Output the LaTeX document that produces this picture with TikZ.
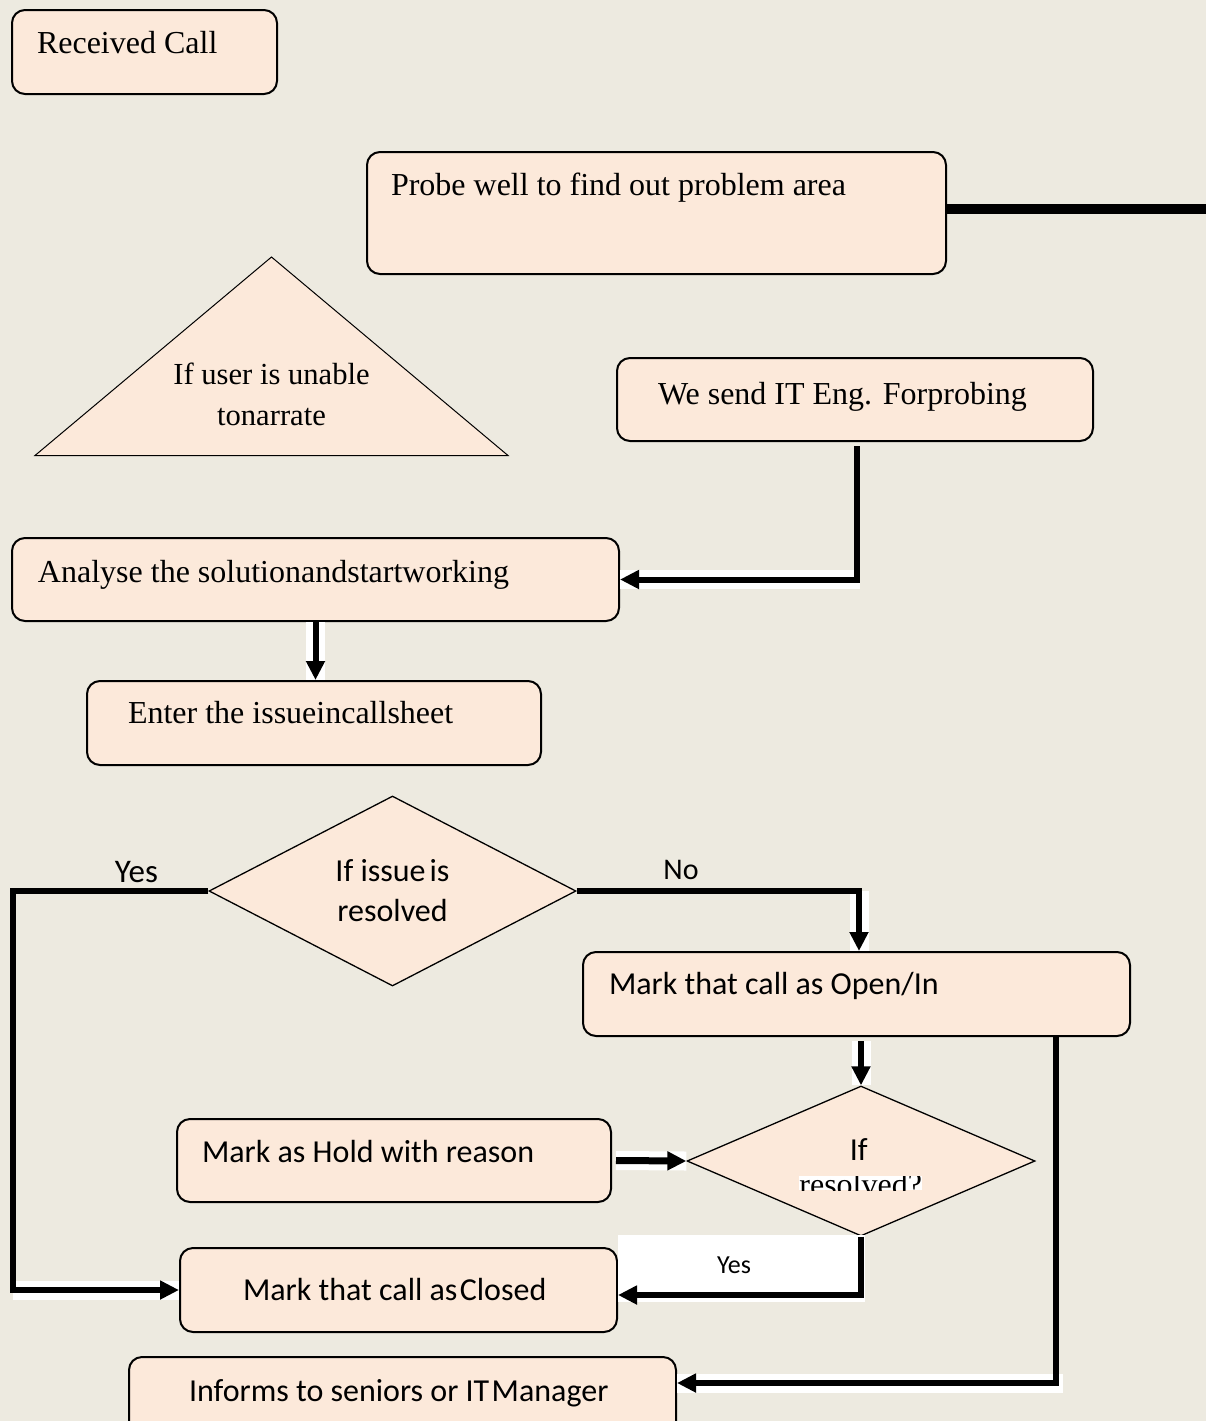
\documentclass[tikz,border=0pt]{standalone}
\usepackage{fontspec}
\setmainfont{Liberation Serif}
\newfontfamily\calfont{Carlito}
\usetikzlibrary{arrows.meta,shapes.geometric}
\definecolor{bgc}{RGB}{237,234,224}
\definecolor{boxc}{RGB}{252,233,218}
\begin{document}
\begin{tikzpicture}[x=0.5pt,y=-0.5pt,
  box/.style={draw=black, line width=1pt, rounded corners=6.5pt, fill=boxc, inner ysep=0pt, align=left,
    execute at begin node={\spaceskip=0pt\xspaceskip=0pt}},
  serifsix/.style={font=\fontsize{16pt}{20.5pt}\selectfont},
  sanssix/.style={font=\calfont\fontsize{16pt}{20pt}\selectfont},
  labelbig/.style={font=\calfont\fontsize{15pt}{17pt}\selectfont, inner sep=0pt, anchor=base},
  labelsmall/.style={font=\calfont\fontsize{13pt}{15pt}\selectfont, inner sep=0pt, anchor=base},
  conn/.style={line width=3pt, draw=black},
  arr/.style={conn, -{Triangle[length=9.5pt,width=9pt]}},
  halo/.style={draw=white, line width=9.5pt},
  thinshape/.style={draw=black, line width=0.65pt, fill=boxc},
]
\fill[bgc] (0,0) rectangle (1206,1421);
\useasboundingbox (0,0) rectangle (1206,1421);

% boxes
\node[box, serifsix, minimum width=132.5pt, text width=107.5pt, inner xsep=12.5pt, text height=21.75pt, text depth=20.25pt] (rc) at (144.5,52) {\mbox{Received Call}};
\node[box, serifsix, minimum width=289.5pt, text width=265.5pt, inner xsep=12pt, text height=21.5pt, text depth=39.5pt] (probe) at (656.5,213) {\mbox{Probe well to find out problem area}};
\node[box, serifsix, minimum width=238pt, text width=197pt, inner xsep=20.5pt, text height=23pt, text depth=18.5pt] (iteng) at (855,399.5) {\mbox{We send IT Eng. Forprobing}};
\node[box, serifsix, minimum width=303.5pt, text width=277.5pt, inner xsep=13pt, text height=22pt, text depth=19.5pt] (analyse) at (315.5,579.5) {\mbox{Analyse the solutionandstartworking}};
\node[box, serifsix, minimum width=227pt, text width=186pt, inner xsep=20.5pt, text height=21pt, text depth=21pt] (enter) at (314,723) {\mbox{Enter the issueincallsheet}};
\node[box, sanssix, minimum width=273.5pt, text width=247.5pt, inner xsep=13pt, text height=21pt, text depth=21pt] (open) at (856.5,994) {\mbox{Mark that call as Open/In}};
\node[box, sanssix, minimum width=217pt, text width=192pt, inner xsep=12.5pt, text height=21.5pt, text depth=20pt] (hold) at (394,1160.5) {\mbox{Mark as Hold with reason}};
\node[box, sanssix, minimum width=218.5pt, text width=155.5pt, inner xsep=31.5pt, text height=26pt, text depth=16pt] (closed) at (398.5,1290) {\mbox{Mark that call as\kern1.2pt Closed}};
\node[box, sanssix, minimum width=273.5pt, text width=213.5pt, inner xsep=30pt, text height=22pt, text depth=20pt] (inform) at (402.5,1399) {\mbox{Informs to seniors or IT\kern1.2pt Manager}};

% triangle
\filldraw[thinshape, line width=0.5pt] (271.5,257) -- (508,455.5) -- (35,455.5) -- cycle;
\node[font=\fontsize{15.3pt}{20.5pt}\selectfont, align=center, inner sep=0pt] (tri) at (271.5,394) {If user is unable\\tonarrate};

% diamonds
\node[diamond, thinshape, sanssix, aspect=1.93, minimum width=183.5pt, minimum height=95pt, inner sep=0pt, align=center] (d1) at (392.5,891) {If issue\hspace{2pt}is\\resolved};
\node[diamond, thinshape, aspect=2.32, minimum width=174pt, minimum height=75pt, inner sep=0pt] (d2) at (861,1161) {};
\node[sanssix, anchor=base, inner sep=0pt] (d2t) at (858.7,1160) {If};
\begin{scope}
  \clip (799,1176) rectangle (922,1190);
  \fill[white] (799,1176) rectangle (922,1190);
  \node[serifsix, anchor=base west, inner sep=0pt] (d2r) at (799,1195) {resolved?};
\end{scope}

% probe line
\coordinate (pend) at (1206,209);
\draw[line width=4.65pt] (probe.east |- pend) -- (pend);

% IT Eng -> Analyse
\coordinate (c1) at (857,579.5);
\draw[halo] (analyse.east) -- ([xshift=1.5pt]c1);
\draw[arr] ([yshift=-2pt]iteng.south -| c1) -- (c1) -- (analyse.east);

% Analyse -> Enter
\draw[halo] (analyse.south) -- (analyse.south |- enter.north);
\draw[arr] (analyse.south) -- (analyse.south |- enter.north);

% d1 Yes -> Closed
\coordinate (yl) at (12.5,892);
\draw[halo] (closed.west -| yl) -- (closed.west);
\draw[arr] (d1.west) -- (d1.west -| yl) -- (yl |- closed.west) -- (closed.west);
\node[labelbig, font=\calfont\fontsize{16.5pt}{18pt}\selectfont] (yes1) at (136.5,882) {Yes};

% d1 No -> Open
\coordinate (nx) at (859,890);
\draw[halo] (d1.east -| nx) -- (open.north -| nx);
\draw[arr] (d1.east) -- (d1.east -| nx) -- (open.north -| nx);
\node[labelbig] (no1) at (681,879) {No};

% Open -> d2
\draw[halo] ([yshift=-2pt]open.south -| d2.north) -- (d2.north);
\draw[arr] ([yshift=-2pt]open.south -| d2.north) -- (d2.north);

% Hold -> d2
\draw[halo] ([xshift=2pt]hold.east) -- (d2.west);
\draw[arr, line width=3.5pt] ([xshift=2pt]hold.east) -- (d2.west);

% d2 Yes -> Closed
\fill[white] (618,1235) rectangle (865,1302);
\coordinate (yb) at (862,1295);
\draw[arr] (d2.south) -- (d2.south |- yb) -- (yb -| closed.east);
\node[labelsmall] (yes2) at (734,1273) {Yes};

% Open -> Inform
\coordinate (rc1) at (1056,1383);
\draw[halo] (rc1 -| inform.east) -- ([xshift=3.5pt]rc1);
\draw[arr] (open.south -| rc1) -- (rc1) -- (rc1 -| inform.east);
\end{tikzpicture}
\end{document}
